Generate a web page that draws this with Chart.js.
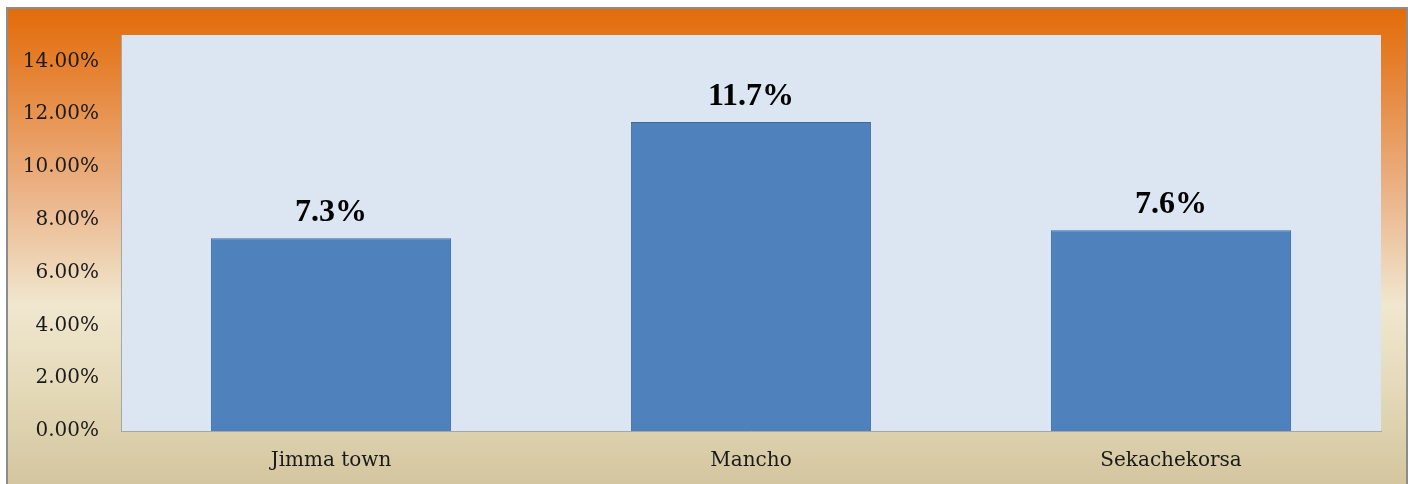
<!DOCTYPE html>
<html>
<head>
<meta charset="utf-8">
<script src="https://cdn.jsdelivr.net/npm/chart.js@4"></script>
<style>
  html, body { margin: 0; padding: 0; background: #fff; }
  #frame {
    position: absolute; left: 6px; top: 7px;
    width: 1398px; height: 480px;
    border: 2px solid #8c8c8c; border-bottom: none;
  }
  canvas { display: block; }
</style>
</head>
<body>
<div id="frame"><canvas id="chart" width="1398" height="477"></canvas></div>
<script>
// --- Chart data ---
const categories = ['Jimma town', 'Mancho', 'Sekachekorsa'];
const prevalence = [7.3, 11.7, 7.6];
const valueLabels = ['7.3%', '11.7%', '7.6%'];
const yTicks = [0, 2, 4, 6, 8, 10, 12, 14];

const serif = '"DejaVu Serif", "Liberation Serif", serif';

// --- Background gradient + plot area fill ---
const backgroundPlugin = {
    id: 'bg',
    beforeDraw(chart) {
        const { ctx, width, height, chartArea } = chart;
        const g = ctx.createLinearGradient(0, 0, 0, height);
        g.addColorStop(0, '#e36c0a');
        g.addColorStop(0.12, '#e5802e');
        g.addColorStop(0.38, '#ebb286');
        g.addColorStop(0.62, '#f0e7cf');
        g.addColorStop(0.8, '#e4d9b8');
        g.addColorStop(1, '#d3c59f');
        ctx.save();
        ctx.fillStyle = g;
        ctx.fillRect(0, 0, width, height);
        ctx.fillStyle = '#dce6f2';
        ctx.fillRect(chartArea.left, chartArea.top, chartArea.right - chartArea.left, chartArea.bottom - chartArea.top);
        ctx.restore();
    }
};

// --- Bold value labels above each bar ---
const valueLabelPlugin = {
    id: 'valueLabels',
    afterDatasetsDraw(chart) {
        const { ctx } = chart;
        const meta = chart.getDatasetMeta(0);
        ctx.save();
        ctx.font = 'bold 32px "Liberation Serif", serif';
        ctx.fillStyle = '#000';
        ctx.textAlign = 'center';
        ctx.textBaseline = 'alphabetic';
        meta.data.forEach((bar, i) => {
            ctx.fillText(valueLabels[i], bar.x, bar.y - 17);
        });
        ctx.restore();
    }
};

new Chart(document.getElementById('chart'), {
    type: 'bar',
    data: {
        labels: categories,
        datasets: [{
            data: prevalence,
            backgroundColor: '#4f81bd',
            borderColor: '#3b6a9f',
            borderWidth: 1,
            barPercentage: 0.572,
            categoryPercentage: 1
        }]
    },
    options: {
        responsive: false,
        animation: false,
        layout: { padding: { top: 26, right: 25, left: 0, bottom: 0 } },
        plugins: { legend: { display: false }, tooltip: { enabled: false } },
        scales: {
            x: {
                grid: { display: false, drawTicks: false },
                border: { color: '#a6a6a6', width: 1 },
                ticks: { color: '#1a1a1a', font: { family: serif, size: 20 }, padding: 18 },
                afterFit(axis) { axis.height = 55; axis.paddingLeft = 0; axis.paddingRight = 0; }
            },
            y: {
                min: 0,
                max: 15,
                grid: { display: false, drawTicks: false },
                border: { color: '#a6a6a6', width: 1 },
                afterBuildTicks(axis) { axis.ticks = yTicks.map(v => ({ value: v })); },
                ticks: {
                    color: '#1a1a1a',
                    font: { family: serif, size: 20 },
                    padding: 22,
                    callback: v => v.toFixed(2) + '%'
                },
                afterFit(axis) { axis.width = 113; axis.paddingTop = 0; axis.paddingBottom = 0; }
            }
        }
    },
    plugins: [backgroundPlugin, valueLabelPlugin]
});
</script>
</body>
</html>
